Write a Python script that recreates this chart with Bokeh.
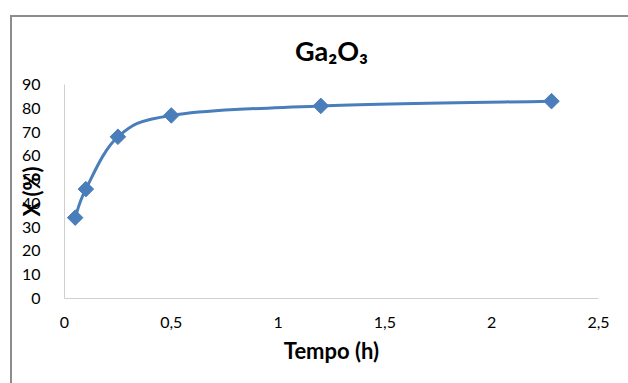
import math
from bokeh.plotting import figure
from bokeh.models import Range1d, FixedTicker, CustomJSTickFormatter, ColumnDataSource
from bokeh.embed import file_html
from bokeh.resources import INLINE

# data
tempo = [0.05, 0.1, 0.25, 0.5, 1.2, 2.28]
conversao = [34, 46, 68, 77, 81, 83]
x_ticks = [0, 0.5, 1, 1.5, 2, 2.5]
y_ticks = [0, 10, 20, 30, 40, 50, 60, 70, 80, 90]
title_text = "Ga\u2082O\u2083"
x_label = "Tempo (h)"
y_label = "X (%)"

FONT = "Lato"
BLUE = "#4a7ebb"
GRAY = "#8c8c8c"

p = figure(width=628, height=383, output_backend="svg", toolbar_location=None,
           x_range=Range1d(0, 2.5), y_range=Range1d(0, 90),
           min_border_left=64, min_border_right=30, min_border_top=84, min_border_bottom=85)
p.border_fill_color = None
p.background_fill_color = "white"
p.styles = {
    "background": ("linear-gradient(%s,%s) 10px 15px / 100%% 2px no-repeat, "
                   "linear-gradient(%s,%s) 10px 15px / 2px 100%% no-repeat, white") % (GRAY, GRAY, GRAY, GRAY)
}

p.title.text = title_text
p.title.text_font = FONT
p.title.text_font_size = "27px"
p.title.text_font_style = "bold"
p.title.align = "center"
p.title.text_color = "#000000"
p.title.standoff = 36

p.xgrid.visible = False
p.ygrid.visible = False
p.outline_line_color = None

for ax in (p.xaxis, p.yaxis):
    ax.major_tick_line_color = None
    ax.minor_tick_line_color = None
    ax.axis_line_color = "#d0d0d0"
    ax.axis_line_width = 1
    ax.major_label_text_font = FONT
    ax.major_label_text_font_size = "16px"
    ax.major_label_text_color = "#000000"
    ax.axis_label_text_font = FONT
    ax.axis_label_text_font_size = "22px"
    ax.axis_label_text_font_style = "bold"
    ax.axis_label_text_color = "#000000"

p.xaxis.ticker = FixedTicker(ticks=x_ticks)
p.yaxis.ticker = FixedTicker(ticks=y_ticks)
p.xaxis.formatter = CustomJSTickFormatter(code="return String(tick).replace('.', ',');")
p.xaxis.axis_label = x_label
p.yaxis.axis_label = y_label
p.xaxis.major_label_standoff = 12
p.xaxis.axis_label_standoff = 6
p.yaxis.major_label_standoff = 18
p.yaxis.axis_label_standoff = -26

# smoothed line (Catmull-Rom style Bezier through data points)
n = len(tempo)
x0s, y0s, x1s, y1s, cx0, cy0, cx1, cy1 = [], [], [], [], [], [], [], []
for i in range(n - 1):
    xm = tempo[i - 1] if i > 0 else tempo[i]
    ym = conversao[i - 1] if i > 0 else conversao[i]
    xp = tempo[i + 2] if i + 2 < n else tempo[i + 1]
    yp = conversao[i + 2] if i + 2 < n else conversao[i + 1]
    x0s.append(tempo[i]); y0s.append(conversao[i])
    x1s.append(tempo[i + 1]); y1s.append(conversao[i + 1])
    cx0.append(tempo[i] + (tempo[i + 1] - xm) / 6)
    cy0.append(conversao[i] + (conversao[i + 1] - ym) / 6)
    cx1.append(tempo[i + 1] - (xp - tempo[i]) / 6)
    cy1.append(conversao[i + 1] - (yp - conversao[i]) / 6)

bsrc = ColumnDataSource(dict(x0=x0s, y0=y0s, x1=x1s, y1=y1s, cx0=cx0, cy0=cy0, cx1=cx1, cy1=cy1))
p.bezier(x0="x0", y0="y0", x1="x1", y1="y1", cx0="cx0", cy0="cy0", cx1="cx1", cy1="cy1",
         source=bsrc, line_color=BLUE, line_width=3)
p.scatter(tempo, conversao, marker="square", angle=math.pi / 4, size=11,
          fill_color=BLUE, line_color=BLUE)

open("out.html", "w").write(file_html(p, INLINE))
